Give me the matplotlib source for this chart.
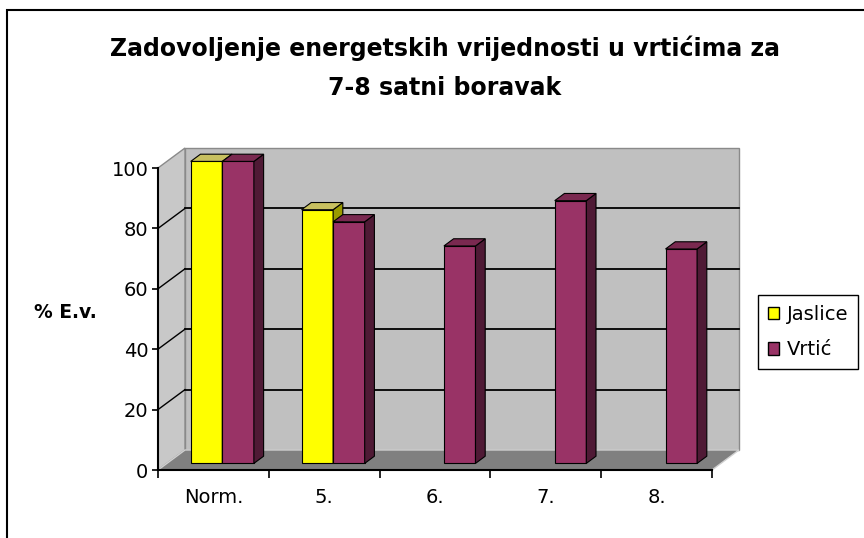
import numpy as np
import matplotlib
matplotlib.use('Agg')
import matplotlib.pyplot as plt
from matplotlib.patches import Polygon, Rectangle, Patch

plt.rcParams['font.family'] = ['DejaVu Sans']

# data
categories = ['Norm.', '5.', '6.', '7.', '8.']
series_names = ['Jaslice', 'Vrtić']
jaslice = [100, 84, np.nan, np.nan, np.nan]
vrtic = [100, 80, 72, 87, 71]
y_ticks = [0, 20, 40, 60, 80, 100]

title = 'Zadovoljenje energetskih vrijednosti u vrtićima za\n7-8 satni boravak'
y_label = '% E.v.'

# izgled
front_cols = ['#ffff00', '#993366']
side_cols = ['#9a9a00', '#4f1a35']
top_cols = ['#c8c060', '#7a2950']

fig = plt.figure(figsize=(8.64, 5.38), dpi=100)
ax = fig.add_axes([158 / 864, 1 - 470 / 538, 554 / 864, 302 / 538])
n = len(categories)
ax.set_xlim(0, n)
ax.set_ylim(0, 100)
ax.patch.set_visible(False)

# dubina (3D pomak) u jedinicama podataka
DX = 27 / (554 / n)
DY = 20 / (302 / 100)

# zidovi i pod
back = Rectangle((DX, DY), n, 100, facecolor='#c0c0c0', edgecolor='#8a8a8a',
                 lw=1, zorder=0.5, clip_on=False)
ax.add_patch(back)
left = Polygon([(0, 0), (0, 100), (DX, 100 + DY), (DX, DY)], closed=True,
               facecolor='#c8c8c8', edgecolor='#8a8a8a', lw=1, zorder=0.5, clip_on=False)
ax.add_patch(left)
for v in y_ticks[1:-1]:
    ax.plot([DX, n + DX], [v + DY, v + DY], color='black', lw=1.3, zorder=0.6, clip_on=False)
    ax.plot([0, DX], [v, v + DY], color='black', lw=1, zorder=0.6, clip_on=False)
floor = Polygon([(0, 0), (n, 0), (n + DX, DY), (DX, DY)], closed=True,
                facecolor='#808080', edgecolor='#d0d0d0', lw=1, zorder=0.7, clip_on=False)
ax.add_patch(floor)

# stupci
w = 0.285
f0 = 0.33   # polozaj prednje plohe po dubini
bd = 0.36   # dubina stupca
x_idx = np.arange(n)
for s, vals in enumerate([jaslice, vrtic]):
    for i in range(n):
        v = vals[i]
        if np.isnan(v):
            continue
        xl = i + 0.5 - w + s * w + f0 * DX
        xr = xl + w
        b = f0 * DY
        ax.bar(xl, v, w, bottom=b, align='edge', color=front_cols[s],
               edgecolor='black', lw=0.8, zorder=2 + s, clip_on=False)
        ax.add_patch(Polygon([(xr, b), (xr, b + v), (xr + bd * DX, b + v + bd * DY),
                              (xr + bd * DX, b + bd * DY)], closed=True,
                             facecolor=side_cols[s], edgecolor='black', lw=0.8,
                             zorder=2 + s, clip_on=False))
        ax.add_patch(Polygon([(xl, b + v), (xr, b + v), (xr + bd * DX, b + v + bd * DY),
                              (xl + bd * DX, b + v + bd * DY)], closed=True,
                             facecolor=top_cols[s], edgecolor='black', lw=0.8,
                             zorder=2 + s, clip_on=False))

# osi
for sp in ['top', 'right']:
    ax.spines[sp].set_visible(False)
for sp in ['left', 'bottom']:
    ax.spines[sp].set_linewidth(1.5)
    ax.spines[sp].set_zorder(5)
ax.set_yticks(y_ticks)
ax.tick_params(axis='y', length=4, width=1.2, pad=3, labelsize=14)
ax.set_xticks(range(n + 1))
ax.set_xticklabels([])
ax.set_xticks(x_idx + 0.5, minor=True)
ax.set_xticklabels(categories, minor=True)
ax.tick_params(axis='x', which='major', length=6, width=1.2)
ax.tick_params(axis='x', which='minor', length=0, pad=13, labelsize=14)

fig.text(65 / 864, 1 - 313 / 538, y_label, ha='center', va='center',
         fontsize=13.5, fontweight='bold')
fig.text(445 / 864, 1 - 68 / 538, title, ha='center', va='center',
         fontsize=17, fontweight='bold', linespacing=1.8)

handles = [Patch(facecolor=front_cols[k], edgecolor='black', label=series_names[k])
           for k in range(2)]
leg = fig.legend(handles=handles, loc='upper left', bbox_to_anchor=(758 / 864, 1 - 295 / 538),
                 frameon=True, fancybox=False, framealpha=1, edgecolor='black',
                 fontsize=14, handlelength=0.6, handleheight=0.6, handletextpad=0.4,
                 labelspacing=0.85, borderpad=0.5, borderaxespad=0)
leg.get_frame().set_linewidth(1)

# okvir grafikona
fig.patches.append(Rectangle((7 / 864, -0.05), 1.1, 1 - 10 / 538 + 0.05, transform=fig.transFigure,
                             fill=False, edgecolor='black', lw=1.5))

fig.savefig('out.png', dpi=100)
